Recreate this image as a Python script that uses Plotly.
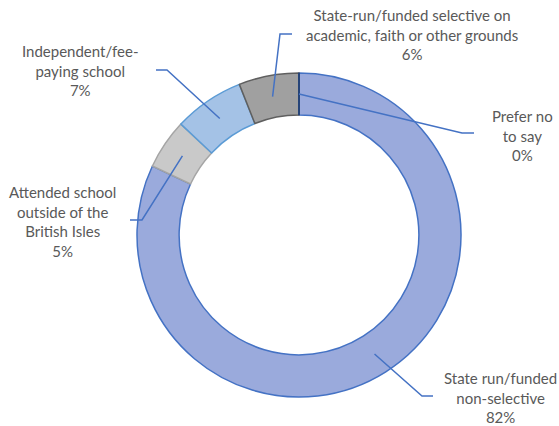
import math
import plotly.graph_objects as go

# ---- data ----
categories = ["Prefer no to say", "State run/funded non-selective",
              "Attended school outside of the British Isles",
              "Independent/fee-paying school",
              "State-run/funded selective on academic, faith or other grounds"]
values = [0, 82, 5, 7, 6]
label_texts = ["Prefer no<br>to say<br>0%",
               "State run/funded<br>non-selective<br>82%",
               "Attended school<br>outside of the<br>British Isles<br>5%",
               "Independent/fee-<br>paying school<br>7%",
               "State-run/funded selective on<br>academic, faith or other grounds<br>6%"]
fill_colors = ["#264478", "#9AAADC", "#C9C9C9", "#A4C2E6", "#A0A0A0"]
line_colors = ["#264478", "#4472C4", "#A5A5A5", "#5B9BD5", "#5F5F5F"]

# ---- layout geometry (pixels) ----
W, H = 559, 426
CX, CY, R_OUT = 299, 235, 162
HOLE = 0.74
R_IN = R_OUT * HOLE
R_MID = (R_OUT + R_IN) / 2

# label centres and leader elbows/ends (pixels)
label_pos = [(522, 135), (500, 397), (62, 221), (80, 71), (412, 34)]
elbows = [(462, 133), (422, 396), (142, 220), (167, 70), (280, 34)]
ends = [(474, 133), (433, 396), (130, 220), (156, 70), (292, 34)]


def px(x):
    return x / W


def py(y):
    return 1 - y / H


fig = go.Figure()
fig.add_trace(go.Pie(
    labels=categories, values=values, sort=False, direction="clockwise",
    rotation=0, hole=HOLE, textinfo="none", showlegend=False,
    marker=dict(colors=fill_colors, line=dict(color=line_colors, width=1.5)),
    domain=dict(x=[px(CX - R_OUT), px(CX + R_OUT)],
                y=[py(CY + R_OUT), py(CY - R_OUT)]),
))

total = sum(values)
shapes = []
annotations = []
cum = 0
for i, v in enumerate(values):
    mid = (cum + v / 2) / total * 2 * math.pi
    sx = CX + R_MID * math.sin(mid)
    sy = CY - R_MID * math.cos(mid)
    if v == 0:
        a = cum / total * 2 * math.pi
        shapes.append(dict(type="line", xref="paper", yref="paper",
                           x0=px(CX + R_IN * math.sin(a)), y0=py(CY - R_IN * math.cos(a)),
                           x1=px(CX + R_OUT * math.sin(a)), y1=py(CY - R_OUT * math.cos(a)),
                           line=dict(color=line_colors[i], width=2)))
    ex, ey = elbows[i]
    tx, ty = ends[i]
    path = f"M {px(sx)} {py(sy)} L {px(ex)} {py(ey)} L {px(tx)} {py(ty)}"
    shapes.append(dict(type="path", xref="paper", yref="paper", path=path,
                       line=dict(color="#4472C4", width=1.5)))
    lx, ly = label_pos[i]
    annotations.append(dict(x=px(lx), y=py(ly), xref="paper", yref="paper",
                            text=label_texts[i], showarrow=False,
                            xanchor="center", yanchor="middle", align="center",
                            font=dict(family="Lato", size=15, color="#595959")))
    cum += v

fig.update_layout(width=W, height=H, margin=dict(l=0, r=0, t=0, b=0),
                  paper_bgcolor="white", plot_bgcolor="white",
                  shapes=shapes, annotations=annotations)

fig.write_html("out.html", config={"displayModeBar": False},
               post_script="document.body.style.margin='0';document.body.style.overflow='hidden';")
